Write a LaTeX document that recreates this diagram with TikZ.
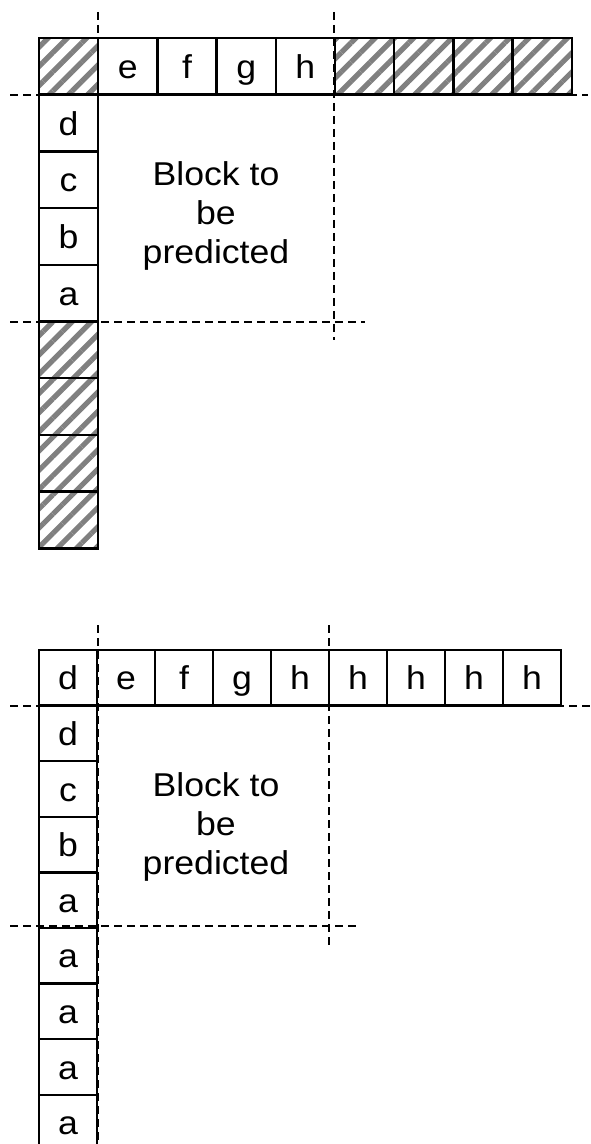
\documentclass[tikz,border=0pt]{standalone}
\usepackage{fontspec}
\setmainfont{Liberation Sans}[FakeStretch=1.08]
\usetikzlibrary{patterns.meta}

\tikzset{
  cell/.style={draw, line width=1.2pt, minimum width=29.6pt, minimum height=28.35pt,
    inner sep=0pt, text height=12pt, text depth=0pt, font=\fontsize{16.5}{19}\selectfont},
  lowcell/.style={cell, minimum width=29pt, minimum height=27.8pt},
  hatched/.style={pattern={Lines[angle=45,distance=6.8pt,line width=2.6pt]}, pattern color=gray},
  guide/.style={line width=1.3pt, dash pattern=on 4pt off 2.5pt},
  blocktext/.style={align=center, font=\fontsize{16.5}{19.5}\selectfont}
}

\begin{document}
\begin{tikzpicture}[x=0.5pt, y=-0.5pt]

    \useasboundingbox (0,0) rectangle (590,1144);

    % Upper diagram (unavailable samples hatched)
    % Row above the block
    \node[cell, hatched] (tc) at (68.6, 66.35) {};
    \node[cell] (ta1) at (127.8, 66.35) {e};
    \node[cell] (ta2) at (187, 66.35) {f};
    \node[cell] (ta3) at (246.2, 66.35) {g};
    \node[cell] (ta4) at (305.4, 66.35) {h};
    \node[cell, hatched] (ta5) at (364.6, 66.35) {};
    \node[cell, hatched] (ta6) at (423.8, 66.35) {};
    \node[cell, hatched] (ta7) at (483, 66.35) {};
    \node[cell, hatched] (ta8) at (542.2, 66.35) {};

    % Column left of the block
    \node[cell] (tl1) at (68.6, 123.05) {d};
    \node[cell] (tl2) at (68.6, 179.75) {c};
    \node[cell] (tl3) at (68.6, 236.45) {b};
    \node[cell] (tl4) at (68.6, 293.15) {a};
    \node[cell, hatched] (tl5) at (68.6, 349.85) {};
    \node[cell, hatched] (tl6) at (68.6, 406.55) {};
    \node[cell, hatched] (tl7) at (68.6, 463.25) {};
    \node[cell, hatched] (tl8) at (68.6, 519.95) {};

    \node[blocktext] (tblock) at (216, 216) {Block to\\be\\predicted};

    % Guide lines
    \coordinate (tv1s) at (98, 12);
    \coordinate (tv1e) at (98, 550);
    \coordinate (tv2s) at (334, 12);
    \coordinate (tv2e) at (334, 340);
    \coordinate (th1s) at (10, 95);
    \coordinate (th1e) at (588, 95);
    \coordinate (th2s) at (10, 322);
    \coordinate (th2e) at (365, 322);
    \draw[guide] (tv1s) -- (tv1e);
    \draw[guide] (tv2s) -- (tv2e);
    \draw[guide] (th1s) -- (th1e);
    \draw[guide] (th2s) -- (th2e);

    % Lower diagram (samples padded)
    % Row above the block
    \node[lowcell] (bc) at (68, 677.8) {d};
    \node[lowcell] (ba1) at (126, 677.8) {e};
    \node[lowcell] (ba2) at (184, 677.8) {f};
    \node[lowcell] (ba3) at (242, 677.8) {g};
    \node[lowcell] (ba4) at (300, 677.8) {h};
    \node[lowcell] (ba5) at (358, 677.8) {h};
    \node[lowcell] (ba6) at (416, 677.8) {h};
    \node[lowcell] (ba7) at (474, 677.8) {h};
    \node[lowcell] (ba8) at (532, 677.8) {h};

    % Column left of the block
    \node[lowcell] (bl1) at (68, 733.4) {d};
    \node[lowcell] (bl2) at (68, 789) {c};
    \node[lowcell] (bl3) at (68, 844.6) {b};
    \node[lowcell] (bl4) at (68, 900.2) {a};
    \node[lowcell] (bl5) at (68, 955.8) {a};
    \node[lowcell] (bl6) at (68, 1011.4) {a};
    \node[lowcell] (bl7) at (68, 1067) {a};
    \node[lowcell] (bl8) at (68, 1122.6) {a};

    \node[blocktext] (bblock) at (216, 827) {Block to\\be\\predicted};

    % Guide lines
    \coordinate (bv1s) at (98, 625);
    \coordinate (bv1e) at (98, 1144);
    \coordinate (bv2s) at (329, 625);
    \coordinate (bv2e) at (329, 945);
    \coordinate (bh1s) at (10, 706);
    \coordinate (bh1e) at (590, 706);
    \coordinate (bh2s) at (10, 926);
    \coordinate (bh2e) at (358, 926);
    \draw[guide] (bv1s) -- (bv1e);
    \draw[guide] (bv2s) -- (bv2e);
    \draw[guide] (bh1s) -- (bh1e);
    \draw[guide] (bh2s) -- (bh2e);

\end{tikzpicture}
\end{document}
